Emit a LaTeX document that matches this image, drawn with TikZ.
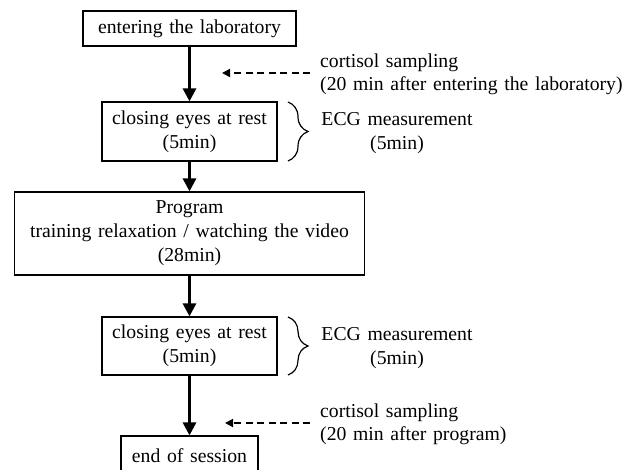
\documentclass[tikz,border=0pt]{standalone}
\usepackage{fontspec}
\setmainfont{Liberation Serif}[WordSpace=1.35]
\usetikzlibrary{arrows.meta,decorations.pathreplacing}
\begin{document}
\begin{tikzpicture}[x=1pt,y=-1pt,
  box/.style={draw, line width=1.2pt, inner sep=0pt, align=center, font=\fontsize{19.7}{24}\selectfont},
  lblc/.style={inner sep=0pt, align=center, font=\fontsize{19.7}{24}\selectfont},
  lbll/.style={inner sep=0pt, align=left, anchor=west, font=\fontsize{19.7}{23}\selectfont},
  flow/.style={line width=3pt, -{Triangle[length=13pt,width=13pt]}},
  dasharrow/.style={line width=1.7pt, dash pattern=on 7pt off 4.5pt, -{Triangle[length=8pt,width=8pt]}},
  ecgbrace/.style={decorate, decoration={brace, amplitude=20pt}, line width=1.2pt}]
\useasboundingbox (0,0) rectangle (625,470);
\clip (0,0) rectangle (625,470);
\fill[white] (0,0) rectangle (625,470);

\node[box, minimum width=213pt, minimum height=35pt] (b1) at (189.5,28.5) {entering the laboratory};
\node[box, minimum width=175pt, minimum height=59pt] (c1) at (189.5,131.5) {closing eyes at rest\\(5min)};
\node[box, minimum width=350pt, minimum height=83pt] (pg) at (189.5,233.5) {Program\\training relaxation / watching the video\\(28min)};
\node[box, minimum width=175pt, minimum height=58pt] (c2) at (189.5,346) {closing eyes at rest\\(5min)};
\node[box, minimum width=137pt, minimum height=40pt] (es) at (189.5,456) {end of session};

\draw[flow] (b1.south) -- (c1.north);
\draw[flow] (c1.south) -- (pg.north);
\draw[flow] (pg.south) -- (c2.north);
\draw[flow] (c2.south) -- (es.north);

\node[lbll] (cs1) at (320,74.5) {cortisol sampling\\(20 min after entering the laboratory)};
\node[lbll] (cs2) at (320,424.5) {cortisol sampling\\(20 min after program)};

\coordinate (d1s) at (310,73);
\coordinate (d1e) at (222,73);
\coordinate (d2s) at (310,423);
\coordinate (d2e) at (225,423);
\draw[dasharrow] (d1s) -- (d1e);
\draw[dasharrow] (d2s) -- (d2e);

\coordinate (br1t) at (288,102);
\coordinate (br1b) at (288,161);
\coordinate (br2t) at (288,317);
\coordinate (br2b) at (288,375);
\draw[ecgbrace] (br1t) -- (br1b);
\draw[ecgbrace] (br2t) -- (br2b);

\node[lblc] (ecg1) at (397,133) {ECG measurement\\(5min)};
\node[lblc] (ecg2) at (397,348) {ECG measurement\\(5min)};
\end{tikzpicture}
\end{document}
